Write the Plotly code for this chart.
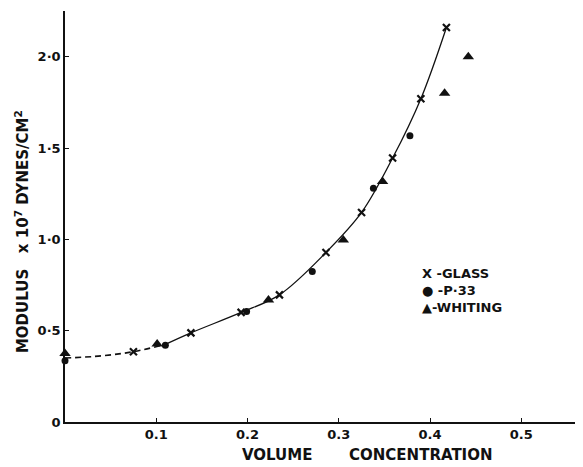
import plotly.graph_objects as go

# ---- data ----
glass_x = [0.075, 0.138, 0.193, 0.235, 0.286, 0.325, 0.359, 0.390, 0.418]
glass_y = [0.385, 0.488, 0.600, 0.696, 0.928, 1.147, 1.445, 1.770, 2.160]

p33_x = [0.0, 0.110, 0.199, 0.271, 0.338, 0.378]
p33_y = [0.335, 0.420, 0.605, 0.824, 1.280, 1.567]

whiting_x = [0.0, 0.101, 0.223, 0.305, 0.348, 0.416, 0.442]
whiting_y = [0.375, 0.427, 0.668, 0.997, 1.317, 1.800, 2.000]

curve_dash_x = [0.0, 0.04, 0.075, 0.11]
curve_dash_y = [0.350, 0.362, 0.385, 0.425]
curve_solid_x = [0.11, 0.138, 0.193, 0.235, 0.286, 0.325, 0.359, 0.390, 0.418]
curve_solid_y = [0.425, 0.488, 0.600, 0.696, 0.928, 1.147, 1.445, 1.770, 2.160]

x_ticks = [0.1, 0.2, 0.3, 0.4, 0.5]
x_tick_labels = ["0.1", "0.2", "0.3", "0.4", "0.5"]
y_ticks = [0, 0.5, 1.0, 1.5, 2.0]
y_tick_labels = ["0", "0·5", "1·0", "1·5", "2·0"]

FONT = "DejaVu Sans"
INK = "#111111"

fig = go.Figure()
fig.add_trace(go.Scatter(x=curve_dash_x, y=curve_dash_y, mode="lines",
                         line=dict(color=INK, width=1.6, dash="6px,4px", shape="spline"),
                         showlegend=False, hoverinfo="skip"))
fig.add_trace(go.Scatter(x=curve_solid_x, y=curve_solid_y, mode="lines",
                         line=dict(color=INK, width=1.3, shape="spline"),
                         showlegend=False, hoverinfo="skip"))
fig.add_trace(go.Scatter(x=glass_x, y=glass_y, mode="markers", name="GLASS",
                         marker=dict(symbol="x-thin-open", size=7, color=INK,
                                     line=dict(width=2.2, color=INK)),
                         cliponaxis=False, showlegend=False))
fig.add_trace(go.Scatter(x=p33_x, y=p33_y, mode="markers", name="P-33",
                         marker=dict(symbol="circle", size=7, color=INK),
                         cliponaxis=False, showlegend=False))
fig.add_trace(go.Scatter(x=whiting_x, y=whiting_y, mode="markers", name="WHITING",
                         marker=dict(symbol="triangle-up", size=10, color=INK),
                         cliponaxis=False, showlegend=False))

fig.update_xaxes(range=[0, 0.56], showgrid=False, zeroline=False,
                 showline=True, linecolor=INK, linewidth=1.5,
                 tickvals=x_ticks, ticktext=x_tick_labels,
                 ticks="inside", ticklen=4, tickcolor=INK,
                 tickfont=dict(family=FONT, size=13, color=INK, weight="bold"))
fig.update_yaxes(range=[0, 2.25], showgrid=False, zeroline=False,
                 showline=True, linecolor=INK, linewidth=1.5,
                 tickvals=y_ticks, ticktext=y_tick_labels,
                 ticks="inside", ticklen=4, tickcolor=INK,
                 tickfont=dict(family=FONT, size=13, color=INK, weight="bold"))

fig.add_annotation(xref="x", yref="paper", x=0.331, y=0, yshift=-33,
                   text="VOLUME&nbsp;&nbsp;&nbsp;&nbsp;&nbsp;&nbsp;&nbsp;CONCENTRATION",
                   showarrow=False, xanchor="center", yanchor="middle",
                   font=dict(family=FONT, size=15, color=INK, weight="bold"))
fig.add_annotation(xref="paper", yref="paper", x=0, y=0.462, xshift=-43,
                   text="MODULUS&nbsp;&nbsp;&nbsp;x 10<sup>7</sup> DYNES/CM<sup>2</sup>",
                   showarrow=False, textangle=-90, xanchor="center", yanchor="middle",
                   font=dict(family=FONT, size=15, color=INK, weight="bold"))
fig.add_annotation(x=0.389, y=0.865, xref="x", yref="y",
                   text="X -GLASS<br>● -P·33<br>▲-WHITING", showarrow=False,
                   xanchor="left", yanchor="top", align="left",
                   font=dict(family=FONT, size=13, color=INK, weight="bold"))

# the page body has an 8px default margin, so the figure is sized to fit the window
fig.update_layout(width=575, height=459,
                  margin=dict(l=57, r=7, t=3, b=45),
                  paper_bgcolor="white", plot_bgcolor="white",
                  showlegend=False)

fig.write_html("out.html")
